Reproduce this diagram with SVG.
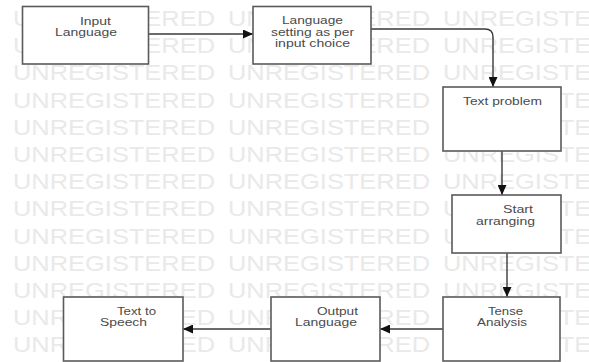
<svg xmlns="http://www.w3.org/2000/svg" xmlns:xlink="http://www.w3.org/1999/xlink" width="589" height="362" viewBox="0 0 589 362">
  <style>
    .wm { font-family: "Liberation Sans", Arial, sans-serif; font-size: 22px; fill: #e9e9e9; }
    .box { fill: #ffffff; stroke: #5a5a5a; stroke-width: 1.6; }
    .lbl { font-family: "Liberation Sans", Arial, sans-serif; font-size: 11px; fill: #4a4a4a; }
    .conn { fill: none; stroke: #3a3a3a; stroke-width: 1.4; }
  </style>
  <defs>
    <marker id="arrow" markerUnits="userSpaceOnUse" markerWidth="10" markerHeight="9" refX="10" refY="4.5" orient="auto">
      <path d="M0,0 L10,4.5 L0,9 z" fill="#111111"/>
    </marker>
    <g id="wmrow">
      <text class="wm" x="13" y="0" textLength="202" lengthAdjust="spacingAndGlyphs">UNREGISTERED</text>
      <text class="wm" x="228" y="0" textLength="202" lengthAdjust="spacingAndGlyphs">UNREGISTERED</text>
      <text class="wm" x="443" y="0" textLength="202" lengthAdjust="spacingAndGlyphs">UNREGISTERED</text>
    </g>
  </defs>
  <rect width="589" height="362" fill="#ffffff"/>
  <g id="watermark">
    <use xlink:href="#wmrow" y="26"/>
    <use xlink:href="#wmrow" y="53.2"/>
    <use xlink:href="#wmrow" y="80.4"/>
    <use xlink:href="#wmrow" y="107.6"/>
    <use xlink:href="#wmrow" y="134.8"/>
    <use xlink:href="#wmrow" y="162"/>
    <use xlink:href="#wmrow" y="189.2"/>
    <use xlink:href="#wmrow" y="216.4"/>
    <use xlink:href="#wmrow" y="243.6"/>
    <use xlink:href="#wmrow" y="270.8"/>
    <use xlink:href="#wmrow" y="298"/>
    <use xlink:href="#wmrow" y="325.2"/>
    <use xlink:href="#wmrow" y="352.4"/>
  </g>
  <g id="connectors">
    <path class="conn" d="M148,34 H253" marker-end="url(#arrow)"/>
    <path class="conn" d="M371,29 H485 Q493,29 493,37 V87" marker-end="url(#arrow)"/>
    <path class="conn" d="M502,151 V195" marker-end="url(#arrow)"/>
    <path class="conn" d="M507,253 V297" marker-end="url(#arrow)"/>
    <path class="conn" d="M443,329 H380" marker-end="url(#arrow)"/>
    <path class="conn" d="M271,329 H183" marker-end="url(#arrow)"/>
  </g>
  <g id="input-language">
    <rect class="box" x="22.5" y="6.5" width="126" height="57.5"/>
    <text class="lbl" x="80" y="25" textLength="31" lengthAdjust="spacingAndGlyphs">Input</text>
    <text class="lbl" x="55" y="36" textLength="62" lengthAdjust="spacingAndGlyphs">Language</text>
  </g>
  <g id="language-setting">
    <rect class="box" x="253" y="6.5" width="118" height="57.5"/>
    <text class="lbl" x="282" y="24" textLength="61" lengthAdjust="spacingAndGlyphs">Language</text>
    <text class="lbl" x="271" y="35.5" textLength="83" lengthAdjust="spacingAndGlyphs">setting as per</text>
    <text class="lbl" x="275" y="47" textLength="75" lengthAdjust="spacingAndGlyphs">input choice</text>
  </g>
  <g id="text-problem">
    <rect class="box" x="443" y="87" width="118" height="64"/>
    <text class="lbl" x="463" y="105" textLength="79" lengthAdjust="spacingAndGlyphs">Text problem</text>
  </g>
  <g id="start-arranging">
    <rect class="box" x="452" y="195" width="109" height="58"/>
    <text class="lbl" x="503" y="213" textLength="30" lengthAdjust="spacingAndGlyphs">Start</text>
    <text class="lbl" x="476" y="225" textLength="59" lengthAdjust="spacingAndGlyphs">arranging</text>
  </g>
  <g id="tense-analysis">
    <rect class="box" x="443" y="297" width="117" height="64"/>
    <text class="lbl" x="488" y="315" textLength="35" lengthAdjust="spacingAndGlyphs">Tense</text>
    <text class="lbl" x="477" y="326" textLength="50" lengthAdjust="spacingAndGlyphs">Analysis</text>
  </g>
  <g id="output-language">
    <rect class="box" x="271" y="297" width="109" height="64"/>
    <text class="lbl" x="317" y="315" textLength="41" lengthAdjust="spacingAndGlyphs">Output</text>
    <text class="lbl" x="295" y="326" textLength="62" lengthAdjust="spacingAndGlyphs">Language</text>
  </g>
  <g id="text-to-speech">
    <rect class="box" x="63.5" y="297" width="119.5" height="64"/>
    <text class="lbl" x="117" y="315" textLength="39" lengthAdjust="spacingAndGlyphs">Text to</text>
    <text class="lbl" x="100" y="326" textLength="47" lengthAdjust="spacingAndGlyphs">Speech</text>
  </g>
</svg>
